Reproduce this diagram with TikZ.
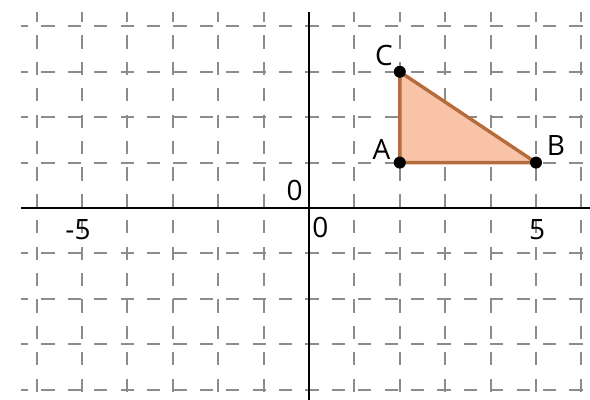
\documentclass[tikz,border=0pt]{standalone}
\usepackage{fontspec}
\setmainfont{Open Sans}
\definecolor{gridgray}{RGB}{140,140,140}
\definecolor{triedge}{RGB}{180,108,60}
\definecolor{trifill}{RGB}{248,195,166}
\begin{document}
\begin{tikzpicture}[x=45.4pt,y=45.4pt,
  gridline/.style={draw=gridgray,line width=2pt,dash pattern=on 13.2pt off 13.2pt},
  axisline/.style={draw=black,line width=2pt},
  lbl/.style={inner sep=0pt,font=\fontsize{28}{30}\selectfont},
  pt/.style={circle,fill=black,inner sep=0pt,minimum size=12pt}]
\useasboundingbox (-6.806,-4.229) rectangle (6.189,4.581);
\fill[white] (-6.806,-4.229) rectangle (6.189,4.581);
% grid
\begin{scope}
\clip (-6.806,-4.229) rectangle (6.189,4.581);
\foreach \yy in {-4,-3,-2,-1,1,2,3,4}
  \draw[gridline,dash phase=6pt] (-6.344,\yy) -- (6.3,\yy);
\foreach \xx in {-6,-5,-4,-3,-2,-1,1,2,3,4,5,6}
  \draw[gridline,dash phase=3pt] (\xx,4.317) -- (\xx,-4.3);
\end{scope}
% axes
\coordinate (xl) at (-6.344,0);
\coordinate (xr) at (6.189,0);
\coordinate (yt) at (0,4.317);
\coordinate (yb) at (0,-4.229);
\draw[axisline] (xl) -- (xr);
\draw[axisline] (yb) -- (yt);
% axis labels
\node[lbl] (ly0) at (-0.319,0.385) {0};
\node[lbl] (lx0) at (0.253,-0.43) {0};
\node[lbl] (lxm5) at (-5.088,-0.485) {-5};
\node[lbl] (lx5) at (5.022,-0.474) {5};
% triangle
\coordinate (A) at (2,1);
\coordinate (B) at (5,1);
\coordinate (C) at (2,3);
\filldraw[fill=trifill,draw=triedge,line width=3.4pt,line join=round] (A) -- (B) -- (C) -- cycle;
\node[pt] (pA) at (A) {};
\node[pt] (pB) at (B) {};
\node[pt] (pC) at (C) {};
\node[lbl] (tA) at (1.594,1.278) {A};
\node[lbl] (tB) at (5.440,1.372) {B};
\node[lbl] (tC) at (1.652,3.348) {C};
\end{tikzpicture}
\end{document}
